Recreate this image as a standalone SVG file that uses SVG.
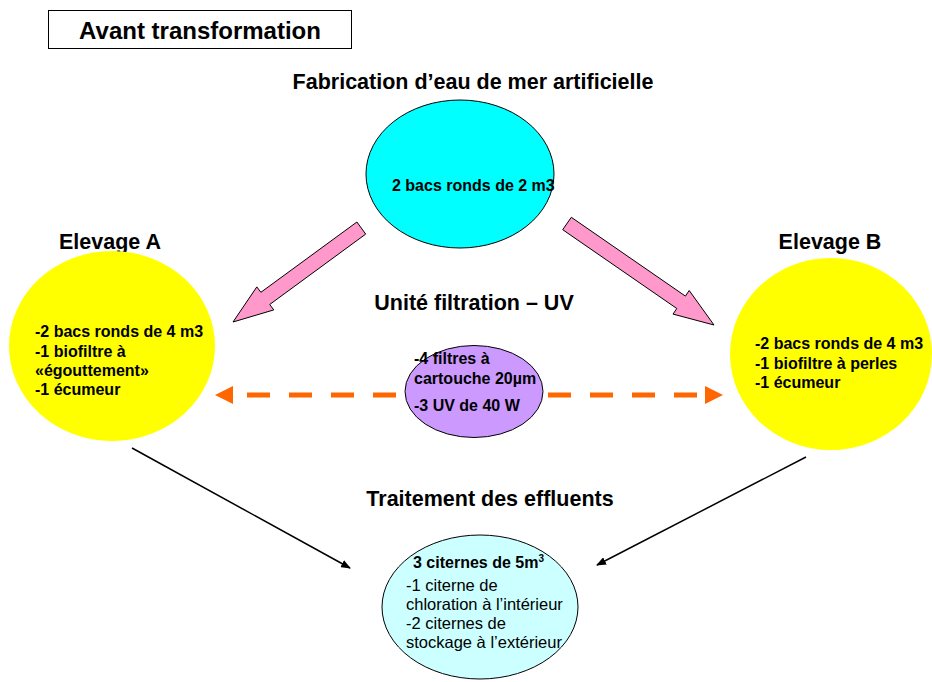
<svg xmlns="http://www.w3.org/2000/svg" width="932" height="682" viewBox="0 0 932 682">
<defs>
<marker id="ah" markerWidth="10" markerHeight="8" refX="9" refY="4" orient="auto" markerUnits="userSpaceOnUse">
<polygon points="0,0 10,4 0,8" fill="#000"/>
</marker>
</defs>
<style>
text{font-family:"Liberation Sans",Arial,sans-serif;fill:#000}
.h{font-size:21.5px;font-weight:bold;text-anchor:middle}
.b{font-size:16px;font-weight:bold}
.r{font-size:16.5px}
.dash{stroke:#FF6600;stroke-width:5;stroke-dasharray:23 19;fill:none}
.pink{fill:#FF99CC;stroke:#000;stroke-width:1}
</style>
<rect width="932" height="682" fill="#fff"/>
<g id="title">
<rect x="48.5" y="10.5" width="303" height="38" fill="#fff" stroke="#000" stroke-width="1"/>
<text x="200" y="38.5" style="font-size:24px;font-weight:bold;text-anchor:middle">Avant transformation</text>
</g>
<g id="connectors">
<polygon class="pink" points="233,322 256.8,286.9 260.9,292.3 356.9,222 365.7,234.1 269.7,304.5 273.8,309.9"/>
<polygon class="pink" points="714,325 689.2,290.5 685.4,296.1 571.3,217.3 562.7,229.7 676.8,308.5 673,314.1"/>
<line class="dash" x1="247" y1="395" x2="397" y2="395"/>
<polygon points="215,395 233,386 233,404" fill="#FF6600"/>
<line class="dash" x1="548" y1="395" x2="698" y2="395"/>
<polygon points="723,395 705,386 705,404" fill="#FF6600"/>
<line x1="132" y1="448" x2="350" y2="568" stroke="#000" stroke-width="1.5" marker-end="url(#ah)"/>
<line x1="806" y1="457" x2="597" y2="565" stroke="#000" stroke-width="1.5" marker-end="url(#ah)"/>
</g>
<g id="fabrication">
<text class="h" x="473" y="89">Fabrication d’eau de mer artificielle</text>
<ellipse cx="460" cy="174" rx="94" ry="74" fill="#00FFFF" stroke="#000" stroke-width="1"/>
<text class="b" x="392" y="191">2 bacs ronds de 2 m3</text>
</g>
<g id="elevageA">
<text class="h" x="110" y="249">Elevage A</text>
<ellipse cx="112" cy="346" rx="103" ry="95" fill="#FFFF00"/>
<text class="b" x="35" y="337">-2 bacs ronds de 4 m3</text>
<text class="b" x="35" y="356.5">-1 biofiltre à</text>
<text class="b" x="35" y="376">«égouttement»</text>
<text class="b" x="35" y="395">-1 écumeur</text>
</g>
<g id="elevageB">
<text class="h" x="830" y="249">Elevage B</text>
<ellipse cx="831" cy="354" rx="101" ry="96" fill="#FFFF00"/>
<text class="b" x="755" y="349">-2 bacs ronds de 4 m3</text>
<text class="b" x="755" y="368.5">-1 biofiltre à perles</text>
<text class="b" x="755" y="388">-1 écumeur</text>
</g>
<g id="filtration">
<text class="h" x="474" y="310">Unité filtration – UV</text>
<ellipse cx="474" cy="391.5" rx="69" ry="46" fill="#CC99FF" stroke="#000" stroke-width="1"/>
<text class="b" x="414" y="364">-4 filtres à</text>
<text class="b" x="414" y="384">cartouche 20µm</text>
<text class="b" x="414" y="411">-3 UV de 40 W</text>
</g>
<g id="effluents">
<text class="h" x="490" y="506">Traitement des effluents</text>
<ellipse cx="480" cy="607" rx="98" ry="72" fill="#CCFFFF" stroke="#000" stroke-width="1"/>
<text class="b" x="413" y="568">3 citernes de 5m<tspan dy="-6" style="font-size:10px">3</tspan></text>
<text class="r" x="406" y="591">-1 citerne de</text>
<text class="r" x="406" y="610">chloration à l’intérieur</text>
<text class="r" x="406" y="629">-2 citernes de</text>
<text class="r" x="406" y="648">stockage à l’extérieur</text>
</g>
</svg>
